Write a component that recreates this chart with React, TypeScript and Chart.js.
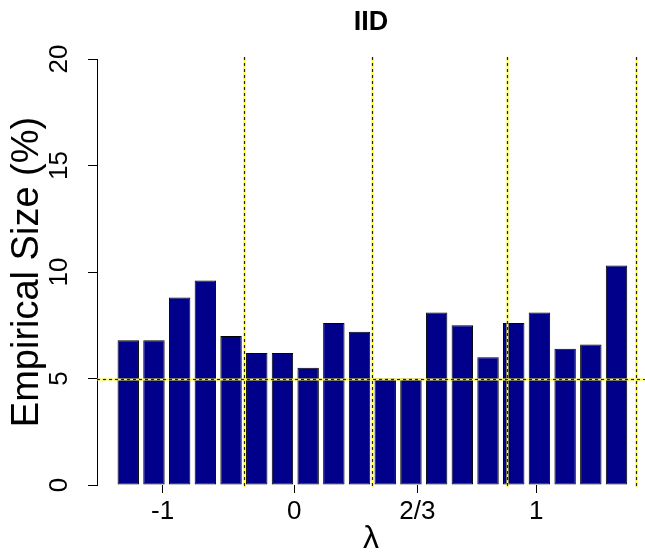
import { useEffect, useRef } from "react";
import { Chart, registerables } from "chart.js";

Chart.register(...registerables);

// Empirical size (%) for each of the 20 bars
const sizes = [6.8, 6.8, 8.8, 9.6, 7.0, 6.2, 6.2, 5.5, 7.6, 7.2, 5.0, 5.0, 8.1, 7.5, 6.0, 7.6, 8.1, 6.4, 6.6, 10.3];
// x-axis tick labels and their positions (in bar-axis units, bar i spans 0.2+1.2i .. 1.2(i+1))
const lambdaLabels = ["-1", "0", "2/3", "1"];
const lambdaTickAt = [2.3, 8.45, 14.2, 19.75];
// vertical separators (same units)
const separatorsAt = [6.1, 12.1, 18.4, 24.4];
const nominalLevel = 5;
const yTicks = [0, 5, 10, 15, 20];

const W = 645;
const H = 559;

export default function App() {
  const ref = useRef<HTMLCanvasElement | null>(null);

  useEffect(() => {
    if (!ref.current) return;

    const refLines = {
      id: "refLines",
      afterDatasetsDraw(chart: any) {
        const { ctx, chartArea, scales } = chart;
        const xs = scales.x;
        const ys = scales.y;
        const drawLine = (x1: number, y1: number, x2: number, y2: number) => {
          ctx.save();
          ctx.strokeStyle = "#ffff33";
          ctx.lineWidth = 2;
          ctx.setLineDash([]);
          ctx.beginPath();
          ctx.moveTo(x1, y1);
          ctx.lineTo(x2, y2);
          ctx.stroke();
          ctx.strokeStyle = "#222222";
          ctx.lineWidth = 1.2;
          ctx.setLineDash([3, 3]);
          ctx.beginPath();
          ctx.moveTo(x1, y1);
          ctx.lineTo(x2, y2);
          ctx.stroke();
          ctx.restore();
        };
        for (const s of separatorsAt) {
          const px = Math.round(xs.getPixelForValue(s)) + 0.5;
          drawLine(px, chartArea.top - 2, px, chartArea.bottom + 2);
        }
        const py = Math.round(ys.getPixelForValue(nominalLevel)) + 0.5;
        drawLine(chartArea.left, py, chartArea.right, py);
      },
      afterDraw(chart: any) {
        const { ctx, scales } = chart;
        const ys = scales.y;
        ctx.save();
        ctx.fillStyle = "#000";
        ctx.font = "26px Arial, 'Liberation Sans', sans-serif";
        ctx.textAlign = "center";
        ctx.textBaseline = "middle";
        for (const t of yTicks) {
          const py = ys.getPixelForValue(t);
          ctx.save();
          ctx.translate(60, py);
          ctx.rotate(-Math.PI / 2);
          ctx.fillText(String(t), 0, 0);
          ctx.restore();
        }
        ctx.restore();
      },
    };

    const chart = new Chart(ref.current, {
      type: "bar",
      data: {
        datasets: [
          {
            data: sizes.map((v, i) => ({ x: 0.7 + 1.2 * i, y: v })),
            backgroundColor: "#00008B",
            borderColor: "#000000",
            borderWidth: 1,
            borderSkipped: false,
            categoryPercentage: 1,
            barPercentage: 1 / 1.2,
          } as any,
        ],
      },
      options: {
        responsive: false,
        maintainAspectRatio: false,
        animation: false,
        layout: { padding: { top: 0, right: 0, bottom: 0, left: 0 } },
        plugins: {
          legend: { display: false },
          tooltip: { enabled: false },
          title: {
            display: true,
            text: "IID",
            fullSize: false,
            color: "#000",
            font: { family: "Arial, 'Liberation Sans', sans-serif", size: 27, weight: "bold" },
            padding: { top: 6, bottom: 20.6 },
          },
        },
        scales: {
          x: {
            type: "linear",
            min: -0.76,
            max: 24.83,
            bounds: "data",
            offset: false,
            afterBuildTicks: (s: any) => {
              s.ticks = lambdaTickAt.map((v) => ({ value: v }));
            },
            afterFit: (s: any) => {
              s.height = 74;
            },
            ticks: {
              autoSkip: false,
              maxRotation: 0,
              minRotation: 0,
              padding: 3,
              color: "#000",
              font: { family: "Arial, 'Liberation Sans', sans-serif", size: 26 },
              callback: (_v: any, i: number) => lambdaLabels[i],
            },
            grid: {
              display: true,
              offset: false,
              drawOnChartArea: false,
              drawTicks: true,
              tickLength: 8,
              color: "#000",
              lineWidth: 1,
            },
            border: { display: false },
            title: {
              display: true,
              text: "λ",
              color: "#000",
              font: { family: "Arial, 'Liberation Sans', sans-serif", size: 32 },
              padding: { top: 0, bottom: 1 },
            },
          },
          y: {
            min: 0,
            max: 20,
            afterBuildTicks: (s: any) => {
              s.ticks = yTicks.map((v) => ({ value: v }));
            },
            afterFit: (s: any) => {
              s.width = 97;
            },
            ticks: { display: false },
            grid: {
              display: true,
              drawOnChartArea: false,
              drawTicks: true,
              tickLength: 9,
              color: "#000",
              lineWidth: 1,
            },
            border: { display: true, color: "#000", width: 1 },
            title: {
              display: true,
              text: "Empirical Size (%)",
              color: "#000",
              font: { family: "Arial, 'Liberation Sans', sans-serif", size: 38 },
              padding: { top: 4.7, bottom: 0 },
            },
          },
        },
      } as any,
      plugins: [refLines],
    });

    return () => chart.destroy();
  }, []);

  return (
    <div style={{ position: "fixed", left: 0, top: 0, width: W, height: H, background: "#fff" }}>
      <canvas ref={ref} width={W} height={H} style={{ display: "block", width: W, height: H }} />
    </div>
  );
}
